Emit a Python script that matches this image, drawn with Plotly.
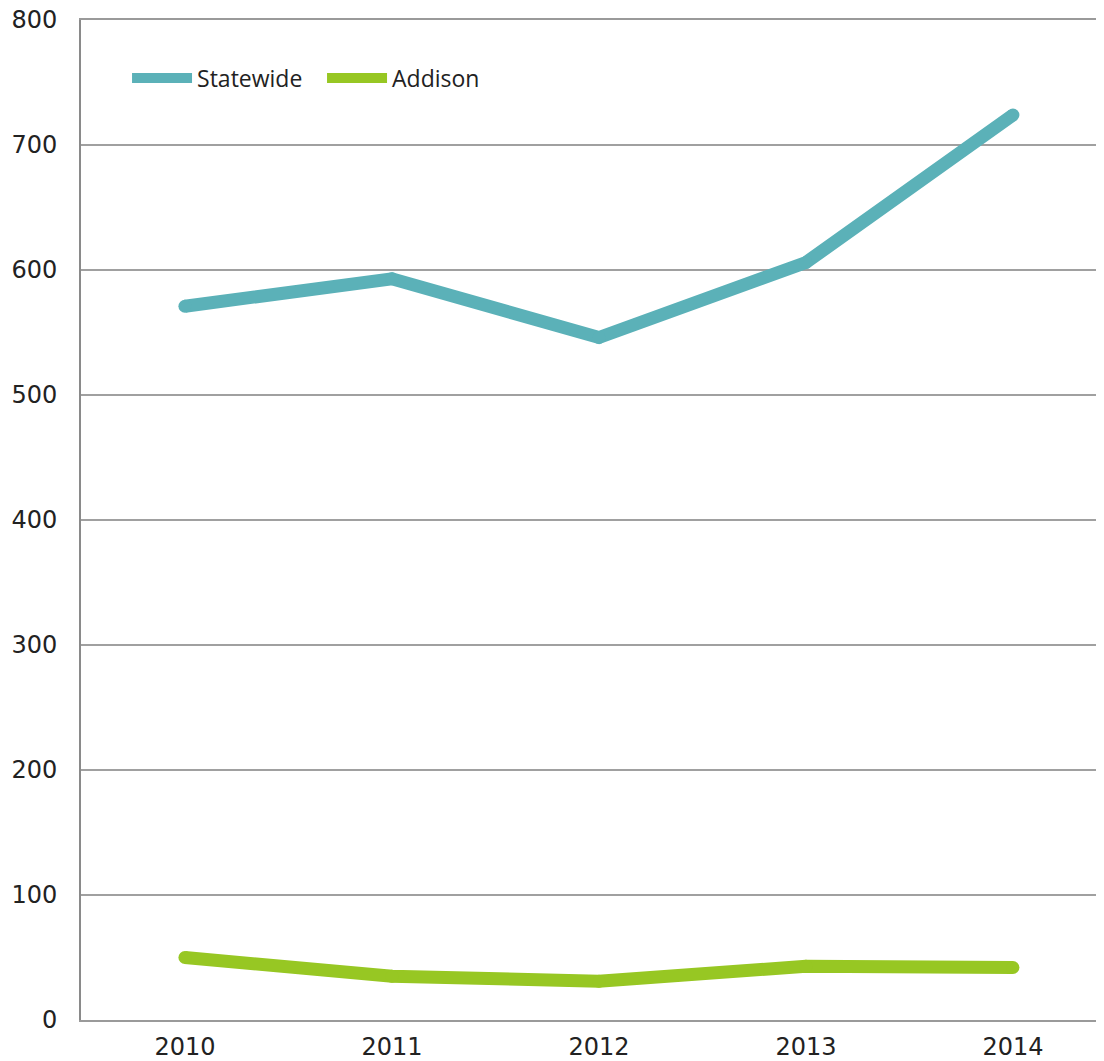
import plotly.graph_objects as go

years = [2010, 2011, 2012, 2013, 2014]
statewide = [571, 593, 546, 606, 724]
addison = [50, 35, 31, 43, 42]
y_ticks = [0, 100, 200, 300, 400, 500, 600, 700, 800]

series = [("Statewide", statewide, "#5BB1B8"), ("Addison", addison, "#97C723")]

fig = go.Figure()
for name, vals, col in series:
    fig.add_trace(go.Scatter(x=years, y=vals, mode="lines", name=name,
                             line=dict(color=col, width=13)))
for name, vals, col in series:
    # round joins/caps
    fig.add_trace(go.Scatter(x=years, y=vals, mode="markers", showlegend=False,
                             hoverinfo="skip",
                             marker=dict(color=col, size=13, line=dict(width=0))))

# page body has an 8px margin, so the figure is sized/offset to compensate
fig.update_layout(
    width=1096, height=1053,
    margin=dict(l=73, r=0, t=12, b=41),
    paper_bgcolor="white", plot_bgcolor="white",
    font=dict(family="DejaVu Sans, sans-serif", size=24, color="#222"),
    legend=dict(orientation="h", x=0.045, y=0.942, xanchor="left", yanchor="middle",
                font=dict(family="Open Sans, sans-serif", size=23), itemwidth=60,
                entrywidth=120, entrywidthmode="pixels",
                bgcolor="rgba(0,0,0,0)"),
    showlegend=True,
)
fig.update_xaxes(range=[2009.498, 2014.44], tickmode="array", tickvals=years,
                 ticktext=[str(y) for y in years], showgrid=False,
                 showline=True, mirror=True, linecolor="#9A9A9A", linewidth=2, ticks="",
                 zeroline=False, automargin=False, ticklabelstandoff=4,
                 ticklabeloverflow="allow")
fig.update_yaxes(range=[0, 800], tickmode="array", tickvals=y_ticks,
                 showgrid=True, gridcolor="#A0A0A0", gridwidth=1.5,
                 showline=True, linecolor="#8A8A8A", linewidth=2, ticks="",
                 zeroline=False, ticklabelstandoff=17, automargin=False,
                 ticklabeloverflow="allow")

fig.write_html("out.html")
